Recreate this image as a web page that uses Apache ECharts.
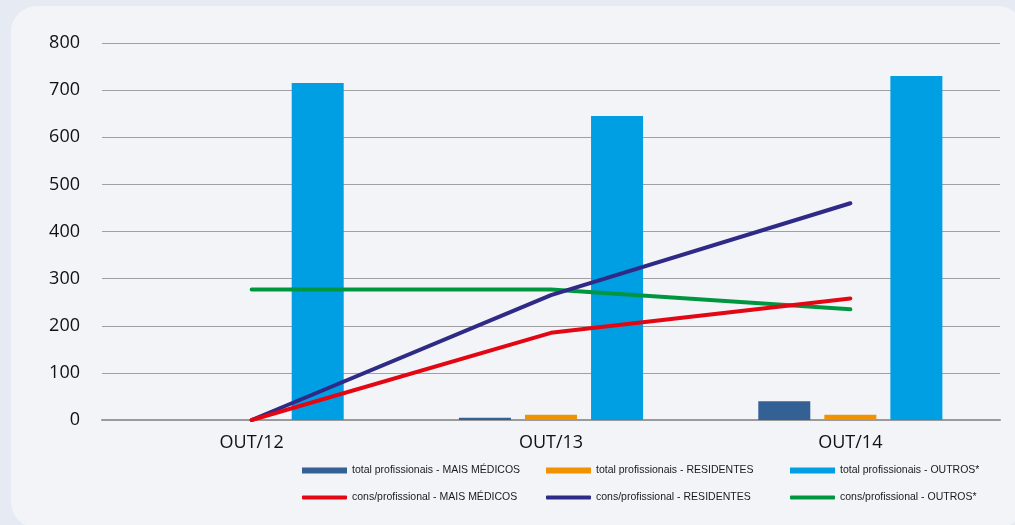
<!DOCTYPE html>
<html>
<head>
<meta charset="utf-8">
<script src="https://cdn.jsdelivr.net/npm/echarts@6/dist/echarts.min.js"></script>
<style>
  html, body { margin: 0; padding: 0; background: #e6eaf2; }
  #chart { width: 1015px; height: 525px; }
</style>
</head>
<body>
<div id="chart"></div>
<script>
// Periods
const categories = ['OUT/12', 'OUT/13', 'OUT/14'];
// Professionals per group
const totalMaisMedicos = [null, 5, 40];
const totalResidentes = [null, 11, 11];
const totalOutros = [715, 645, 730];
// Consultations per professional
const consMaisMedicos = [0, 185, 258];
const consResidentes = [0, 265, 460];
const consOutros = [277, 277, 235];
const yTicks = [0, 100, 200, 300, 400, 500, 600, 700, 800];

const colors = {
  mm: '#336196', res: '#f39200', out: '#009fe3',
  lmm: '#e30613', lres: '#2e2a86', lout: '#009640'
};

const legendFont = { fontFamily: 'Liberation Sans', fontSize: 10.5, color: '#1a1a1a' };

function legendAt(name, left, top, isLine) {
  return {
    data: [name],
    left: left, top: top,
    orient: 'horizontal',
    padding: 0,
    itemWidth: 45, itemHeight: isLine ? 4 : 6,
    itemGap: 0,
    textStyle: legendFont,
    icon: isLine ? 'roundRect' : 'rect',
    selectedMode: false
  };
}

const chart = echarts.init(document.getElementById('chart'), null, { renderer: 'canvas' });

const barBase = { type: 'bar', barWidth: 52, barGap: '27%', z: 2 };
const lineBase = { type: 'line', symbol: 'none', smooth: false };

chart.setOption({
  animation: false,
  backgroundColor: '#e6eaf2',
  graphic: [{
    type: 'rect',
    z: -10,
    shape: { x: 11, y: 6, width: 1013, height: 522, r: 26 },
    style: { fill: '#f2f4f8' }
  }],
  grid: { left: 102, right: 15, top: 43, bottom: 105, containLabel: false },
  legend: [
    legendAt('total profissionais - MAIS MÉDICOS', 302, 465, false),
    legendAt('total profissionais - RESIDENTES', 546, 465, false),
    legendAt('total profissionais - OUTROS*', 790, 465, false),
    legendAt('cons/profissional - MAIS MÉDICOS', 302, 492, true),
    legendAt('cons/profissional - RESIDENTES', 546, 492, true),
    legendAt('cons/profissional - OUTROS*', 790, 492, true)
  ],
  xAxis: {
    type: 'category',
    data: categories,
    boundaryGap: true,
    axisLine: { show: true, lineStyle: { color: '#9a9a9a', width: 2 } },
    axisTick: { show: false },
    axisLabel: { fontFamily: 'Open Sans', fontSize: 18, color: '#111', margin: 14 }
  },
  yAxis: {
    type: 'value',
    min: yTicks[0],
    max: yTicks[yTicks.length - 1],
    interval: yTicks[1] - yTicks[0],
    axisLine: { show: false },
    axisTick: { show: false },
    splitLine: { lineStyle: { color: '#a0a0a0', width: 1 } },
    axisLabel: { fontFamily: 'Open Sans', fontSize: 18, color: '#111', margin: 22 }
  },
  series: [
    Object.assign({}, barBase, { name: 'total profissionais - MAIS MÉDICOS', data: totalMaisMedicos, itemStyle: { color: colors.mm } }),
    Object.assign({}, barBase, { name: 'total profissionais - RESIDENTES', data: totalResidentes, itemStyle: { color: colors.res } }),
    Object.assign({}, barBase, { name: 'total profissionais - OUTROS*', data: totalOutros, itemStyle: { color: colors.out } }),
    Object.assign({}, lineBase, { name: 'cons/profissional - MAIS MÉDICOS', data: consMaisMedicos, z: 7, itemStyle: { color: colors.lmm }, lineStyle: { color: colors.lmm, width: 4, cap: 'round' } }),
    Object.assign({}, lineBase, { name: 'cons/profissional - RESIDENTES', data: consResidentes, z: 6, itemStyle: { color: colors.lres }, lineStyle: { color: colors.lres, width: 4, cap: 'round' } }),
    Object.assign({}, lineBase, { name: 'cons/profissional - OUTROS*', data: consOutros, z: 5, itemStyle: { color: colors.lout }, lineStyle: { color: colors.lout, width: 4, cap: 'round' } })
  ]
});
</script>
</body>
</html>
